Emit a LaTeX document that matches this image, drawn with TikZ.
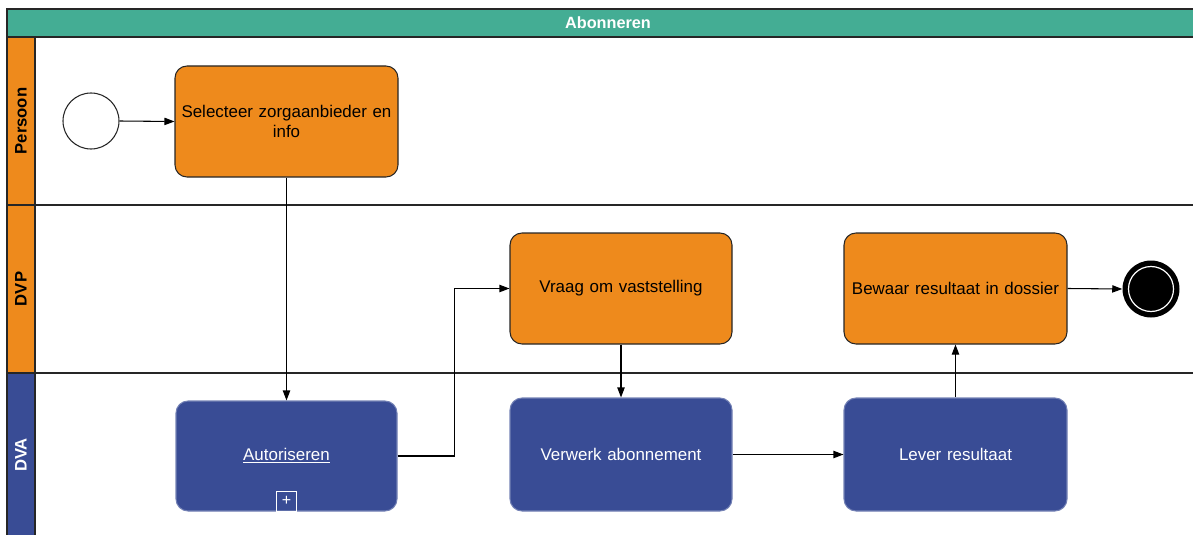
\documentclass[tikz,border=0pt]{standalone}
\usepackage{fontspec}
\setmainfont{Liberation Sans}
\usetikzlibrary{arrows.meta,calc}
\definecolor{teal1}{HTML}{44AD94}
\definecolor{orng}{HTML}{EE8A1C}
\definecolor{blu}{HTML}{394C95}
\tikzset{
  task/.style={draw=black!85, rounded corners=9pt, line width=0.8pt, align=center,
    font=\fontsize{12.7}{14.5}\selectfont, inner sep=0pt},
  ptask/.style={task, fill=orng, text=black},
  btask/.style={task, fill=blu, draw=blu!70!white, text=white},
  flow/.style={draw=black, line width=0.8pt, -{Triangle[length=7.5pt,width=5.5pt]}},
  lanelbl/.style={font=\bfseries\fontsize{12.5}{14}\selectfont, rotate=90},
}
\begin{document}
\begin{tikzpicture}[x=0.75pt,y=-0.75pt]
\useasboundingbox (0,0) rectangle (1193,535);
\clip (0,0) rectangle (1193,535);
% pool / lanes
\draw[line width=1pt, black!85] (7,205) -- (1200,205);
\draw[line width=1pt, black!85] (7,373) -- (1200,373);
\draw[fill=teal1, draw=black!85, line width=1.2pt] (7,9) rectangle (1200,37);
\node[font=\bfseries\fontsize{12.2}{14}\selectfont, text=white] (title) at (608,23) {Abonneren};
\draw[fill=orng, draw=black!85, line width=1pt] (7,37) rectangle (35,205);
\draw[fill=orng, draw=black!85, line width=1pt] (7,205) rectangle (35,373);
\draw[fill=blu, draw=black!85, line width=1pt] (7,373) rectangle (35,545);
\node[lanelbl] (l1) at (21,121) {Persoon};
\node[lanelbl] (l2) at (21,289) {DVP};
\node[lanelbl, text=white] (l3) at (21,455) {DVA};
% events
\node[draw=black!85, fill=white, circle, line width=0.8pt, minimum size=56*0.75pt, inner sep=0pt] (s) at (91,121) {};
\node[circle, fill=black, minimum size=57*0.75pt, inner sep=0pt] (e) at (1151,289) {};
\draw[white, line width=0.9pt] (e.center) circle (22.5);
% tasks
\node[ptask, minimum width=223*0.75pt, minimum height=111*0.75pt, text width=215*0.75pt] (t1) at (286.5,121.5) {Selecteer zorgaanbieder en\\info};
\node[ptask, minimum width=222*0.75pt, minimum height=111*0.75pt, text width=215*0.75pt] (t2) at (621,288.5) {Vraag om vaststelling};
\node[ptask, minimum width=223*0.75pt, minimum height=111*0.75pt, text width=215*0.75pt] (t3) at (955.5,288.5) {Bewaar resultaat in dossier};
\node[btask, minimum width=221*0.75pt, minimum height=110*0.75pt, text width=215*0.75pt] (t4) at (286.5,456) {\underline{Autoriseren}};
\node[btask, minimum width=222*0.75pt, minimum height=113*0.75pt, text width=215*0.75pt] (t5) at (621,454.5) {Verwerk abonnement};
\node[btask, minimum width=223*0.75pt, minimum height=113*0.75pt, text width=215*0.75pt] (t6) at (955.5,454.5) {Lever resultaat};
\node[draw=white, line width=0.6pt, minimum size=20*0.75pt, inner sep=0pt, anchor=south, text=white, font=\fontsize{12}{12}\selectfont] (plus) at (t4.south) {+};
% flows
\draw[flow] (s.east) -- (t1.west);
\draw[flow] (t1.south) -- (t4.north);
\draw[flow] (t4.east) -- ++(57,0) |- (t2.west);
\draw[flow] (t2.south) -- (t5.north);
\draw[flow] (t5.east) -- (t6.west);
\draw[flow] (t6.north) -- (t3.south);
\draw[flow] (t3.east) -- (e.west);
\end{tikzpicture}
\end{document}
